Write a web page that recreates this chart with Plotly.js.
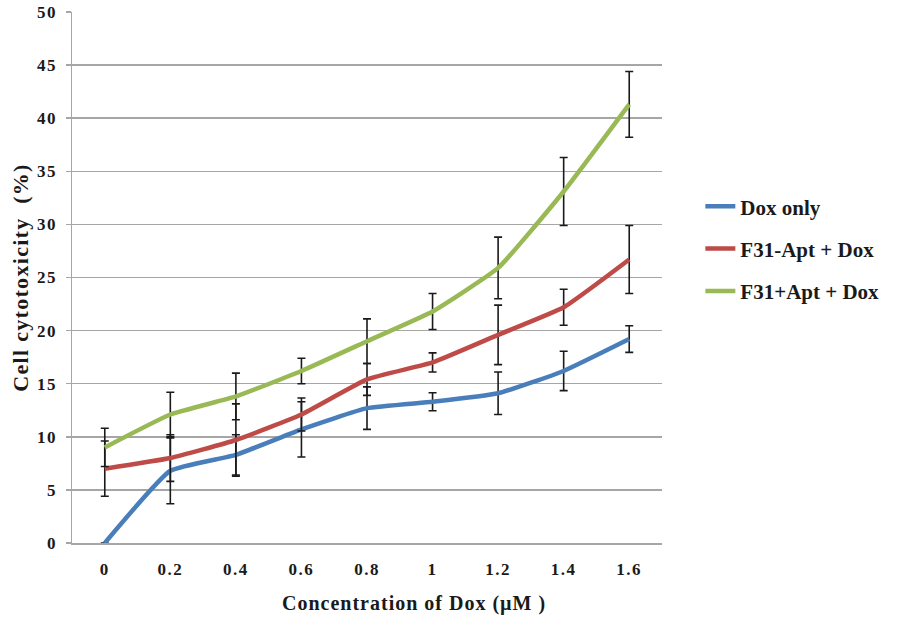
<!DOCTYPE html>
<html>
<head>
<meta charset="utf-8">
<script src="https://cdn.plot.ly/plotly-3.0.1.min.js"></script>
<style>
html,body{margin:0;padding:0;background:#fff;}
#chart{width:900px;height:617px;}
#chart .annotation-text{letter-spacing:1px;}
#chart .ytitle{letter-spacing:1.3px;}
#chart .xtick text,#chart .ytick text{letter-spacing:1.5px;}
</style>
</head>
<body>
<div id="chart"></div>
<script>
const concentrations = ['0', '0.2', '0.4', '0.6', '0.8', '1', '1.2', '1.4', '1.6'];
const doxOnly = [0, 6.8, 8.3, 10.7, 12.7, 13.3, 14.1, 16.2, 19.2];
const doxOnlyErr = [0, 3.1, 1.9, 2.6, 2.0, 0.85, 2.0, 1.85, 1.25];
const f31MinusApt = [7.0, 8.0, 9.7, 12.1, 15.4, 17.0, 19.6, 22.2, 26.7];
const f31MinusAptErr = [2.6, 2.2, 3.4, 1.55, 1.5, 0.9, 2.8, 1.7, 3.2];
const f31PlusApt = [9.0, 12.1, 13.8, 16.2, 19.0, 21.8, 25.9, 33.1, 41.3];
const f31PlusAptErr = [1.8, 2.1, 2.2, 1.2, 2.1, 1.7, 2.9, 3.2, 3.1];
const seriesNames = ['Dox only', 'F31-Apt + Dox', 'F31+Apt + Dox'];
const seriesColors = ['#4a7ebb', '#be4b48', '#98b954'];
const xTitle = 'Concentration of Dox (µM )';
const yTitle = 'Cell cytotoxicity  (%)';

const ys = [doxOnly, f31MinusApt, f31PlusApt];
const errs = [doxOnlyErr, f31MinusAptErr, f31PlusAptErr];

const traces = ys.map((y, i) => ({
  type: 'scatter',
  mode: 'lines',
  x: concentrations,
  y: y,
  name: seriesNames[i],
  legendgroup: 'g' + i,
  line: {color: seriesColors[i], width: 4.5, shape: 'spline', smoothing: 0.4},
  error_y: {type: 'data', array: errs[i], visible: true, color: '#1a1a1a', thickness: 1.6, width: 4},
  cliponaxis: false,
  hoverinfo: 'skip'
}));

const fam = '"Liberation Serif", "Times New Roman", serif';

const layout = {
  width: 900,
  height: 617,
  margin: {l: 72, r: 238, t: 12, b: 74},
  paper_bgcolor: '#ffffff',
  plot_bgcolor: '#ffffff',
  showlegend: true,
  font: {family: fam, color: '#1a1a1a', size: 17},
  xaxis: {
    type: 'category',
    range: [-0.5, 8.5],
    showgrid: false,
    zeroline: false,
    showline: true,
    linecolor: '#a6a6a6',
    linewidth: 1.5,
    ticks: '',
    ticklabelstandoff: 10,
    tickfont: {family: fam, size: 17, color: '#1a1a1a', weight: 'bold'}
  },
  yaxis: {
    range: [0, 50],
    tickmode: 'linear',
    tick0: 0,
    dtick: 5,
    showgrid: true,
    gridcolor: '#a6a6a6',
    gridwidth: 1.5,
    zeroline: false,
    showline: true,
    linecolor: '#a6a6a6',
    linewidth: 1.5,
    ticks: 'outside',
    ticklen: 5,
    tickcolor: '#a6a6a6',
    tickwidth: 1.5,
    ticklabelstandoff: 5,
    tickfont: {family: fam, size: 17, color: '#1a1a1a', weight: 'bold'},
    title: {text: yTitle, font: {family: fam, size: 22, color: '#1a1a1a', weight: 'bold'}, standoff: 5}
  },
  annotations: [{
    text: xTitle,
    xref: 'paper', yref: 'paper',
    x: 0.58, y: -0.113,
    xanchor: 'center', yanchor: 'middle',
    showarrow: false,
    font: {family: fam, size: 20, color: '#1a1a1a', weight: 'bold'}
  }],
  legend: {
    x: 1.065,
    y: 0.672,
    xanchor: 'left',
    yanchor: 'top',
    bgcolor: 'rgba(0,0,0,0)',
    font: {family: fam, size: 21, color: '#1a1a1a', weight: 'bold'},
    tracegroupgap: 12,
    itemwidth: 30
  }
};

Plotly.newPlot('chart', traces, layout, {displayModeBar: false, staticPlot: true});
</script>
</body>
</html>
